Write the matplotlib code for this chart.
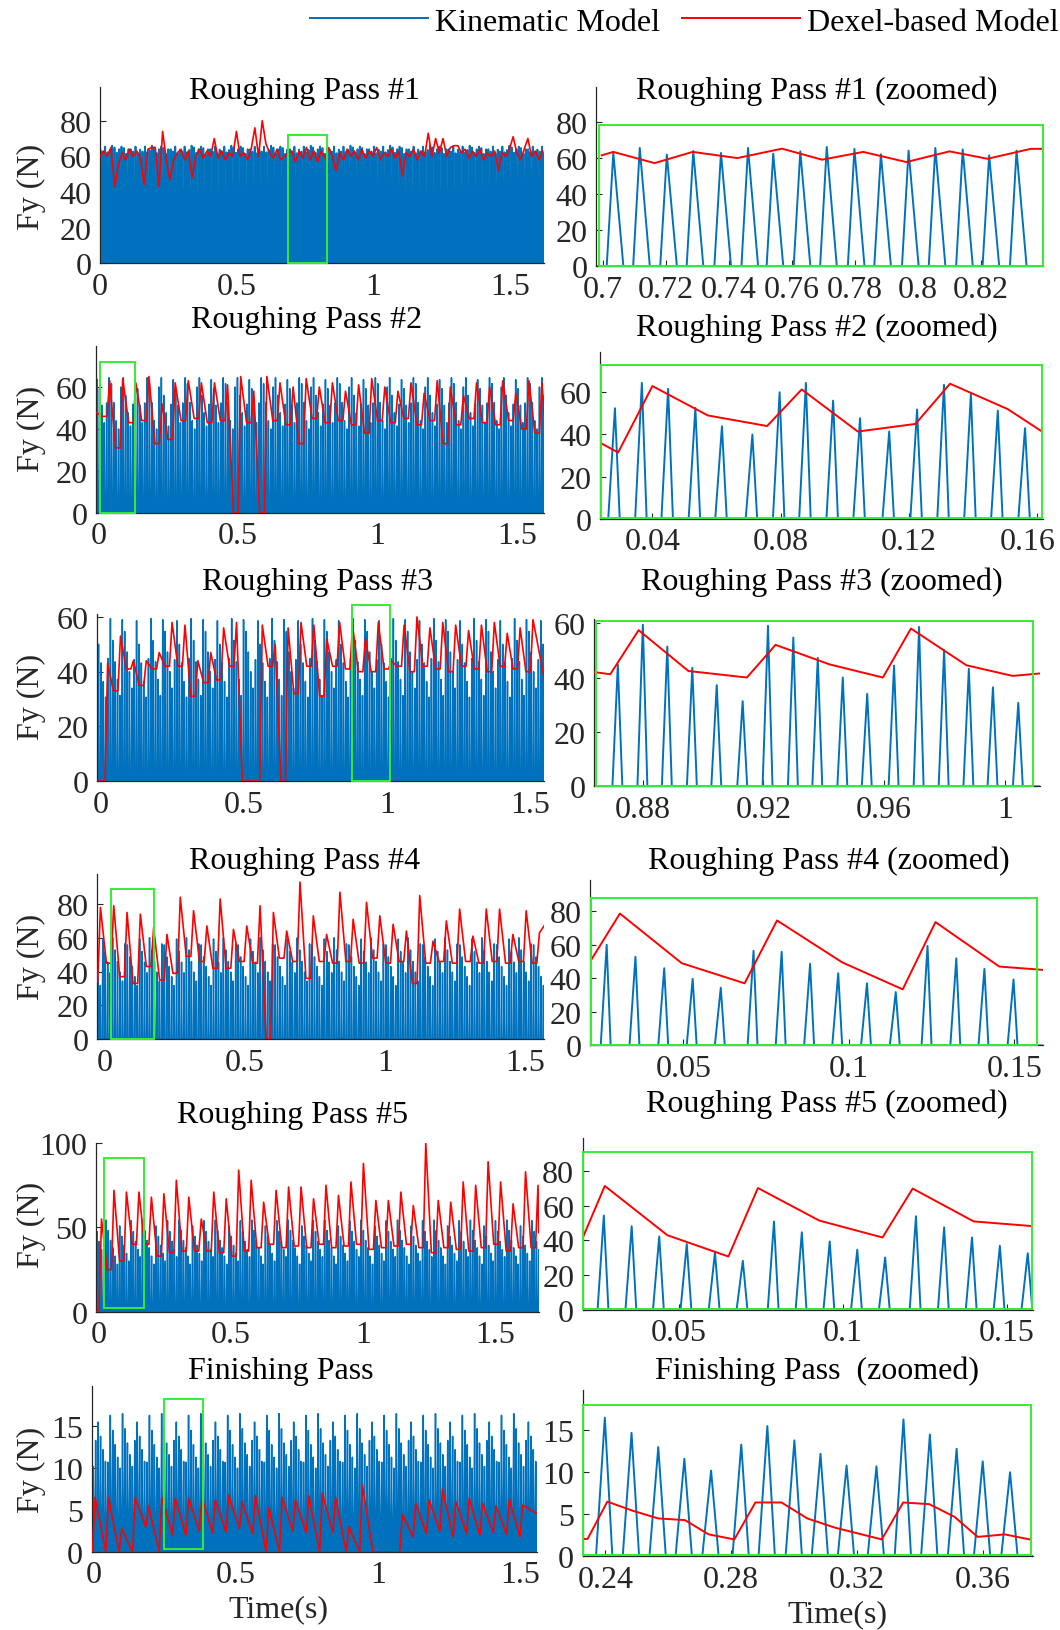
import numpy as np
import matplotlib
matplotlib.use("Agg")
import matplotlib.pyplot as plt
from matplotlib.lines import Line2D
from matplotlib.patches import Rectangle
from matplotlib.transforms import ScaledTranslation

plt.rcParams["font.family"] = ["Liberation Serif", "DejaVu Serif"]

# ============================ DATA ============================
legend_labels = ["Kinematic Model", "Dexel-based Model"]
titles_full = ["Roughing Pass #1", "Roughing Pass #2", "Roughing Pass #3",
               "Roughing Pass #4", "Roughing Pass #5", "Finishing Pass"]
titles_zoom = ["Roughing Pass #1 (zoomed)", "Roughing Pass #2 (zoomed)",
               "Roughing Pass #3 (zoomed)", "Roughing Pass #4 (zoomed)",
               "Roughing Pass #5 (zoomed)", "Finishing Pass  (zoomed)"]
y_label = "Fy (N)"
x_label = "Time(s)"

full_xticks = [0, 0.5, 1, 1.5]
full_xticklabels = ["0", "0.5", "1", "1.5"]

# ---- Roughing pass 1 ----
rp1_kin_peak_t = [0.7032, 0.7116, 0.7202, 0.7286, 0.7374, 0.7460, 0.7540, 0.7626,
                  0.7710, 0.7798, 0.7882, 0.7970, 0.8055, 0.8142, 0.8226, 0.8313, 0.8400]
rp1_kin_peak_v = [62.7, 65.5, 61.8, 63.8, 62.7, 65.5, 62.3, 63.6,
                  66.0, 65.0, 62.0, 64.0, 65.5, 64.7, 61.4, 64.0, 64.0]
rp1_kin_period = 0.00855
rp1_zoom_red_t = [0.6995, 0.7032, 0.7163, 0.7284, 0.7426, 0.7568, 0.7695,
                  0.7826, 0.7963, 0.8100, 0.8221, 0.8358, 0.8398]
rp1_zoom_red_v = [61.4, 63.3, 57.1, 63.3, 59.9, 65.1, 59.0, 63.3, 57.7, 63.6, 59.5, 65.0, 65.0]
rp1_red_dt = 0.0135
rp1_red_v = [60, 63, 60, 65, 43, 55, 62, 58, 64, 60,
             63, 59, 44, 64, 65, 65, 43, 74, 58, 47,
             58, 62, 64, 58, 63, 48, 60, 64, 59, 63,
             60, 70, 59, 63, 58, 62, 60, 74, 60, 62,
             58, 64, 76, 60, 80, 67, 62, 59, 64, 58,
             60, 62, 63, 57, 63, 59, 65, 58, 63, 57,
             63, 59, 65, 60, 52, 62, 58, 64, 60, 63,
             58, 64, 59, 63, 60, 65, 58, 62, 60, 64,
             59, 63, 49, 62, 60, 64, 58, 63, 60, 73,
             60, 70, 62, 70, 60, 65, 66, 66, 62, 64,
             59, 63, 60, 64, 58, 62, 60, 63, 52, 62,
             60, 64, 71, 62, 58, 64, 70, 60, 63, 58, 63]
rp1_zoom_xticks = [0.70, 0.72, 0.74, 0.76, 0.78, 0.80, 0.82]
rp1_zoom_xticklabels = ["0.7", "0.72", "0.74", "0.76", "0.78", "0.8", "0.82"]

# ---- Roughing pass 2 ----
rp2_kin_peak_t = [0.0283, 0.0367, 0.0449, 0.0534, 0.0617, 0.0712, 0.0797, 0.0879,
                  0.0964, 0.1048, 0.1139, 0.1226, 0.1310, 0.1394, 0.1478, 0.1563]
rp2_kin_peak_v = [52.4, 64.4, 61.6, 52.6, 43.9, 40.0, 60.0, 64.4,
                  56.0, 47.7, 41.4, 51.8, 63.5, 59.2, 51.3, 43.0]
rp2_kin_period = 0.00853
rp2_zoom_red_t = [0.0238, 0.0293, 0.0400, 0.0573, 0.0758, 0.0866, 0.1041, 0.1221, 0.1329, 0.1509, 0.1620]
rp2_zoom_red_v = [36.0, 31.5, 62.9, 49.0, 44.0, 61.3, 41.4, 45.0, 64.0, 52.0, 41.0]
rp2_red_t0, rp2_red_period = 0.039, 0.047
rp2_red_peak = [63, 64, 62, 65, 52, 62, 63, 62, 62, 61, 65, 58, 65, 62, 60, 64, 60,
                62, 58, 61, 64, 60, 58, 62, 57, 63, 60, 56, 62, 60, 63, 57, 63, 62]
rp2_red_trough = [46, 31, 43, 44, 33, 35, 44, 45, 43, 44, 0, 43, 0, 44, 42, 33, 45,
                  43, 44, 42, 38, 44, 43, 45, 42, 44, 33, 42, 45, 43, 42, 44, 40, 38]
rp2_red_ends = [48, 47]
rp2_zoom_xticks = [0.04, 0.08, 0.12, 0.16]
rp2_zoom_xticklabels = ["0.04", "0.08", "0.12", "0.16"]

# ---- Roughing pass 3 ----
rp3_kin_peak_t = [0.8717, 0.8800, 0.8881, 0.8964, 0.9045, 0.9131, 0.9215, 0.9299, 0.9380,
                  0.9463, 0.9544, 0.9633, 0.9716, 0.9799, 0.9881, 0.9961, 1.0045]
rp3_kin_peak_v = [44.8, 59.4, 51.4, 43.6, 37.2, 31.3, 59.0, 54.7, 47.2,
                  40.0, 34.0, 44.4, 58.6, 50.0, 43.2, 36.4, 30.7]
rp3_kin_period = 0.0083
rp3_zoom_red_t = [0.8638, 0.8692, 0.8786, 0.8951, 0.9145, 0.9240, 0.9420,
                  0.9596, 0.9689, 0.9873, 1.0026, 1.0117]
rp3_zoom_red_v = [42.0, 41.2, 57.4, 42.4, 40.0, 52.0, 44.8, 40.0, 58.0, 44.5, 40.6, 41.5]
rp3_red_t0, rp3_red_period = 0.0236, 0.045
rp3_red_peak = [43, 53, 44, 44, 47, 58, 57, 44, 47, 56, 58, 0, 57, 50, 56, 58, 57,
                52, 58, 57, 52, 58, 44, 57, 60, 56, 58, 57, 55, 57, 58, 54, 56, 59]
rp3_red_trough = [0, 33, 41, 35, 41, 42, 42, 31, 36, 37, 42, 0, 0, 42, 0, 32, 42,
                  31, 42, 41, 40, 40, 41, 42, 40, 42, 41, 40, 42, 41, 40, 42, 41, 40]
rp3_red_ends = [0, 38]
rp3_zoom_xticks = [0.88, 0.92, 0.96, 1.0]
rp3_zoom_xticklabels = ["0.88", "0.92", "0.96", "1"]

# ---- Roughing pass 4 ----
rp4_kin_peak_t = [0.0268, 0.0355, 0.0442, 0.0528, 0.0613, 0.0712, 0.0797, 0.0883,
                  0.0968, 0.1055, 0.1142, 0.1238, 0.1325, 0.1410, 0.1498]
rp4_kin_peak_v = [60.0, 52.8, 46.0, 39.7, 34.4, 56.4, 55.8, 48.7,
                  43.0, 37.0, 31.8, 59.3, 51.9, 45.6, 39.3]
rp4_kin_period = 0.00879
rp4_zoom_red_t = [0.0215, 0.0308, 0.0495, 0.0685, 0.0783, 0.0980, 0.1163, 0.1262, 0.1455, 0.1588]
rp4_zoom_red_v = [49.0, 78.6, 49.0, 37.0, 74.5, 49.5, 33.4, 73.5, 47.0, 45.0]
rp4_red_t0, rp4_red_period = -0.0167, 0.0475
rp4_red_peak = [78, 79, 75, 74, 66, 62, 84, 76, 67, 83, 65, 67, 79, 75, 64, 93, 73,
                62, 87, 71, 81, 73, 68, 64, 85, 58, 70, 77, 61, 77, 77, 62, 76, 63]
rp4_red_trough = [34, 45, 37, 33, 43, 35, 39, 49, 46, 42, 42, 46, 45, 0, 48, 46, 36,
                  46, 45, 46, 45, 48, 45, 46, 33, 45, 46, 45, 46, 45, 46, 45, 46, 45]
rp4_red_ends = [35, 67]
rp4_zoom_xticks = [0.05, 0.10, 0.15]
rp4_zoom_xticklabels = ["0.05", "0.1", "0.15"]

# ---- Roughing pass 5 ----
rp5_kin_peak_t = [0.0270, 0.0355, 0.0439, 0.0523, 0.0609, 0.0694, 0.0789, 0.0874,
                  0.0959, 0.1043, 0.1128, 0.1222, 0.1308, 0.1393, 0.1478, 0.1563]
rp5_kin_peak_v = [54.4, 48.2, 42.3, 37.9, 33.0, 28.2, 50.9, 44.7,
                  39.4, 34.6, 30.1, 54.0, 47.6, 41.7, 36.9, 32.6]
rp5_kin_period = 0.00862
rp5_zoom_red_t = [0.0204, 0.0273, 0.0464, 0.0650, 0.0740, 0.0927, 0.1120, 0.1212, 0.1398, 0.1582]
rp5_zoom_red_v = [40.8, 71.5, 43.0, 30.7, 70.3, 51.5, 41.7, 70.0, 51.0, 48.2]
rp5_red_t0, rp5_red_period = 0.010, 0.0472
rp5_red_peak = [55, 72, 71, 71, 68, 70, 78, 68, 55, 71, 67, 84, 78, 65, 72, 74, 74, 67,
                75, 69, 77, 88, 66, 66, 71, 63, 100, 66, 65, 77, 75, 89, 77, 64, 83, 75]
rp5_red_trough = [0, 25, 30, 40, 40, 33, 35, 36, 36, 36, 35, 33, 36, 38, 40, 38, 39, 38,
                  40, 38, 39, 40, 37, 38, 39, 40, 38, 35, 38, 37, 36, 38, 40, 36, 38, 38]
rp5_red_ends = [0, 47]
rp5_zoom_xticks = [0.05, 0.10, 0.15]
rp5_zoom_xticklabels = ["0.05", "0.1", "0.15"]

# ---- Finishing pass ----
fin_kin_peak_t = [0.2398, 0.2483, 0.2568, 0.2651, 0.2736, 0.2832, 0.2915, 0.3001,
                  0.3084, 0.3167, 0.3262, 0.3348, 0.3432, 0.3517, 0.3600, 0.3687]
fin_kin_peak_v = [16.5, 14.7, 13.0, 11.6, 10.2, 13.3, 15.5, 13.8,
                  12.2, 10.8, 10.7, 16.3, 14.5, 12.8, 11.3, 10.0]
fin_kin_period = 0.0086
fin_zoom_red_t = [0.2329, 0.2343, 0.2406, 0.2488, 0.2568, 0.2653, 0.2728, 0.2810, 0.2877, 0.2960,
                  0.3042, 0.3130, 0.3279, 0.3347, 0.3430, 0.3510, 0.3584, 0.3670, 0.3749]
fin_zoom_red_v = [2.05, 2.05, 6.5, 5.4, 4.5, 4.3, 2.6, 2.0, 6.4, 6.4,
                  4.5, 3.4, 2.0, 6.4, 6.2, 4.7, 2.3, 2.6, 2.0]
fin_red_t0, fin_red_period = 0.0056, 0.047
fin_red_peak = [6.5, 6.5, 2.8, 6.5, 5.5, 6.5, 6.4, 6.4, 6.5, 6.2, 6.8, 6.0, 6.7, 5.3, 6.5, 6.2, 6.7,
                7.0, 6.5, 3.0, 8.0, 0, 0, 4.5, 5.8, 6.2, 7.5, 6.0, 6.4, 5.8, 5.5, 6.3, 5.6]
fin_red_trough = [0, 0, 0, 0, 3, 0, 2, 2, 2.5, 2.3, 2.4, 2.8, 2.2, 0, 0, 2.5, 2.3,
                  0, 2.3, 0, 0, 0, 0, 0, 1.8, 2.2, 2.5, 1.8, 2.2, 2.0, 2.3, 2.1, 1.8]
fin_red_ends = [0, 4.6]
fin_zoom_xticks = [0.24, 0.28, 0.32, 0.36]
fin_zoom_xticklabels = ["0.24", "0.28", "0.32", "0.36"]

# ============================ STYLE / LAYOUT ============================
BLUE = "#0072BD"
RED = "#FF0000"
GREEN = "#33EE33"
AXC = "#262626"
FS = 23
W, H = 1060, 1631

fig = plt.figure(figsize=(W / 100, H / 100), dpi=100)


def add_ax(left, top, right, bottom):
    return fig.add_axes([left / W, 1 - bottom / H, (right - left) / W, (bottom - top) / H])


def style(ax, xlim, ylim, xt, xtl, yt):
    ax.set_xlim(*xlim)
    ax.set_ylim(*ylim)
    ax.set_xticks(xt)
    ax.set_xticklabels(xtl)
    ax.set_yticks(yt)
    ax.set_yticklabels([f"{v:g}" for v in yt])
    for s in ("top", "right"):
        ax.spines[s].set_visible(False)
    for s in ("left", "bottom"):
        ax.spines[s].set_color(AXC)
        ax.spines[s].set_linewidth(0.9)
    ax.tick_params(direction="in", length=4, width=0.8, colors=AXC, labelsize=FS, pad=6)
    for lab in ax.get_xticklabels() + ax.get_yticklabels():
        lab.set_color(AXC)
    ax.patch.set_alpha(0)


def pulse_train(peak_t, peak_v, rise, fall):
    t, v = [], []
    for tp, vp in zip(peak_t, peak_v):
        t += [tp - rise, tp, tp + fall]
        v += [0.0, vp, 0.0]
    return np.array(t), np.array(v)


def tiled_train(first_t, period, pattern, t_lo, t_hi, rise, fall):
    j0 = int(np.floor((t_lo - first_t) / period)) - 1
    j1 = int(np.ceil((t_hi - first_t) / period)) + 1
    js = np.arange(j0, j1 + 1)
    pk_t = first_t + js * period
    pk_v = np.asarray(pattern)[js % len(pattern)]
    return pulse_train(pk_t, pk_v, rise, fall)


def dexel_cycles(t0, period, peaks, troughs, plateau, ends, t_lo, t_hi):
    t, v = [t_lo], [ends[0]]
    for k, (p, tr) in enumerate(zip(peaks, troughs)):
        tk = t0 + k * period
        if plateau:
            t += [tk - 0.55 * period, tk - 0.2 * period]
            v += [tr, tr]
        else:
            t += [tk - 0.2 * period]
            v += [tr]
        t.append(tk)
        v.append(p)
    t.append(t_hi)
    v.append(ends[1])
    t, v = np.array(t), np.array(v)
    o = np.argsort(t, kind="stable")
    return t[o], v[o]


rows = [
    dict(fbox=(99.9, 87.9, 544, 264.2), fxlim=(0, 1.625), fylim=(0, 99), yt=[0, 20, 40, 60, 80],
         fgreen=(0.690, 0.0, 0.832, 72), zbox=(596, 88.4, 1043.3, 267.3), zxlim=(0.6977, 0.8398),
         zylim=(0, 99), zyt=[0, 20, 40, 60, 80], zgreen=(0.6985, 0.3, 0.8396, 78),
         title_f=(304.8, 91.5), title_z=(816.6, 91.5), ylab_y=187, blw=1.3),
    dict(fbox=(95.7, 347.1, 544, 513.9), fxlim=(-0.011, 1.597), fylim=(0, 79.5), yt=[0, 20, 40, 60],
         fgreen=(0.005, 0.0, 0.130, 72), zbox=(600.2, 353, 1043.3, 520.1), zxlim=(0.0237, 0.162),
         zylim=(0, 79), zyt=[0, 20, 40, 60], zgreen=(0.0240, 0.3, 0.1615, 73),
         title_f=(306.9, 320.4), title_z=(816.6, 328.7), ylab_y=428.6, blw=1.1),
    dict(fbox=(96.7, 615.2, 544, 782.2), fxlim=(-0.0145, 1.547), fylim=(0, 61), yt=[0, 20, 40, 60],
         fgreen=(0.875, 0.0, 1.010, 64.5), zbox=(594, 620, 1040, 787.4), zxlim=(0.8638, 1.0117),
         zylim=(0, 61.5), zyt=[0, 20, 40, 60], zgreen=(0.8645, 0.3, 1.0095, 60.7),
         title_f=(317.3, 582.5), title_z=(821.8, 582.5), ylab_y=697, blw=1.1),
    dict(fbox=(96.7, 874.6, 544, 1040.2), fxlim=(-0.03, 1.567), fylim=(0, 98), yt=[0, 20, 40, 60, 80],
         fgreen=(0.022, 0.0, 0.175, 89), zbox=(589.8, 881, 1043.3, 1046.4), zxlim=(0.0217, 0.1588),
         zylim=(0, 98.6), zyt=[0, 20, 40, 60, 80], zgreen=(0.0220, 0.5, 0.157, 88),
         title_f=(304.8, 861.3), title_z=(829, 861.3), ylab_y=957, blw=1.1),
    dict(fbox=(95.7, 1144.2, 538.8, 1312.7), fxlim=(-0.012, 1.665), fylim=(0, 100), yt=[0, 50, 100],
         fgreen=(0.020, 2.0, 0.169, 91), zbox=(582.5, 1139.4, 1033, 1310.6), zxlim=(0.0205, 0.1579),
         zylim=(0, 99), zyt=[0, 20, 40, 60, 80], zgreen=(0.0207, 0.3, 0.1577, 91),
         title_f=(292.3, 1115.1), title_z=(827, 1104.7), ylab_y=1225, blw=1.1),
    dict(fbox=(91.5, 1387, 536.7, 1553), fxlim=(-0.007, 1.559), fylim=(0, 19.8), yt=[0, 5, 10, 15],
         fgreen=(0.249, 0.3, 0.386, 18.3), zbox=(582.5, 1391, 1033, 1557.2), zxlim=(0.2327, 0.376),
         zylim=(0, 19.8), zyt=[0, 5, 10, 15], zgreen=(0.2329, 0.2, 0.3755, 18),
         title_f=(280.9, 1371), title_z=(816.6, 1371), ylab_y=1470, blw=1.1),
]

kin = [
    (rp1_kin_peak_t, rp1_kin_peak_v, rp1_kin_period, 0.0021, 0.0032),
    (rp2_kin_peak_t, rp2_kin_peak_v, rp2_kin_period, 0.0021, 0.0015),
    (rp3_kin_peak_t, rp3_kin_peak_v, rp3_kin_period, 0.0018, 0.0015),
    (rp4_kin_peak_t, rp4_kin_peak_v, rp4_kin_period, 0.0018, 0.0012),
    (rp5_kin_peak_t, rp5_kin_peak_v, rp5_kin_period, 0.0019, 0.0014),
    (fin_kin_peak_t, fin_kin_peak_v, fin_kin_period, 0.0028, 0.0024),
]
zoom_red = [(rp1_zoom_red_t, rp1_zoom_red_v), (rp2_zoom_red_t, rp2_zoom_red_v),
            (rp3_zoom_red_t, rp3_zoom_red_v), (rp4_zoom_red_t, rp4_zoom_red_v),
            (rp5_zoom_red_t, rp5_zoom_red_v), (fin_zoom_red_t, fin_zoom_red_v)]
cyc_red = [None,
           (rp2_red_t0, rp2_red_period, rp2_red_peak, rp2_red_trough, True, rp2_red_ends),
           (rp3_red_t0, rp3_red_period, rp3_red_peak, rp3_red_trough, True, rp3_red_ends),
           (rp4_red_t0, rp4_red_period, rp4_red_peak, rp4_red_trough, True, rp4_red_ends),
           (rp5_red_t0, rp5_red_period, rp5_red_peak, rp5_red_trough, True, rp5_red_ends),
           (fin_red_t0, fin_red_period, fin_red_peak, fin_red_trough, False, fin_red_ends)]
zoom_ticks = [(rp1_zoom_xticks, rp1_zoom_xticklabels), (rp2_zoom_xticks, rp2_zoom_xticklabels),
              (rp3_zoom_xticks, rp3_zoom_xticklabels), (rp4_zoom_xticks, rp4_zoom_xticklabels),
              (rp5_zoom_xticks, rp5_zoom_xticklabels), (fin_zoom_xticks, fin_zoom_xticklabels)]

for i, r in enumerate(rows):
    pk_t, pk_v, per, rise, fall = kin[i]

    # ---------- full-length panel ----------
    axf = add_ax(*r["fbox"])
    t_lo, t_hi = r["fxlim"]
    bt, bv = tiled_train(pk_t[0], per, pk_v, t_lo, t_hi, rise, fall)
    axf.plot(bt, bv, color=BLUE, lw=r["blw"], zorder=2)
    if i == 0:
        rt = np.arange(len(rp1_red_v)) * rp1_red_dt
        rv = np.array(rp1_red_v)
    else:
        t0, P, pks, trs, plat, ends = cyc_red[i]
        rt, rv = dexel_cycles(t0, P, pks, trs, plat, ends, t_lo, t_hi)
    axf.plot(rt, rv, color=RED, lw=1.2, zorder=3)
    x0, y0, x1, y1 = r["fgreen"]
    axf.add_patch(Rectangle((x0, y0), x1 - x0, y1 - y0, fill=False, ec=GREEN, lw=1.4,
                            zorder=4, clip_on=False))
    style(axf, r["fxlim"], r["fylim"], full_xticks, full_xticklabels, r["yt"])

    # ---------- zoomed panel ----------
    axz = add_ax(*r["zbox"])
    zt, zv = pulse_train(pk_t, pk_v, rise, fall)
    z_lo, z_hi = r["zxlim"]
    zt = np.concatenate([[z_lo], zt, [z_hi]])
    zv = np.concatenate([[0.0], zv, [0.0]])
    o = np.argsort(zt, kind="stable")
    axz.plot(zt[o], zv[o], color=BLUE, lw=1.4, zorder=2)
    axz.plot(zoom_red[i][0], zoom_red[i][1], color=RED, lw=1.4, zorder=3)
    x0, y0, x1, y1 = r["zgreen"]
    axz.add_patch(Rectangle((x0, y0), x1 - x0, y1 - y0, fill=False, ec=GREEN, lw=1.4,
                            zorder=4, clip_on=False))
    style(axz, r["zxlim"], r["zylim"], zoom_ticks[i][0], zoom_ticks[i][1], r["zyt"])
    if i == 1:
        last = axz.get_xticklabels()[-1]
        last.set_transform(last.get_transform() + ScaledTranslation(-0.09, 0, fig.dpi_scale_trans))

    # ---------- titles / labels ----------
    fx, fy = r["title_f"]
    fig.text(fx / W, 1 - fy / H, titles_full[i], ha="center", va="center", fontsize=FS, color="black")
    zx, zy = r["title_z"]
    fig.text(zx / W, 1 - zy / H, titles_zoom[i], ha="center", va="center", fontsize=FS, color="black")
    fig.text(31 / W, 1 - r["ylab_y"] / H, y_label, ha="center", va="center", rotation=90,
             fontsize=FS, color=AXC)

fig.text(278.8 / W, 1 - 1610.2 / H, x_label, ha="center", va="center", fontsize=FS, color=AXC)
fig.text(837.4 / W, 1 - 1614.4 / H, x_label, ha="center", va="center", fontsize=FS, color=AXC)

handles = [Line2D([], [], color=BLUE, lw=1.4), Line2D([], [], color=RED, lw=1.4)]
fig.legend(handles, legend_labels, loc="center left", bbox_to_anchor=(310 / W, 1 - 22.9 / H),
           ncol=2, frameon=False, handlelength=3.7, handletextpad=0.2, columnspacing=0.7,
           borderpad=0, borderaxespad=0, fontsize=FS)

fig.savefig("out.png", dpi=100)
